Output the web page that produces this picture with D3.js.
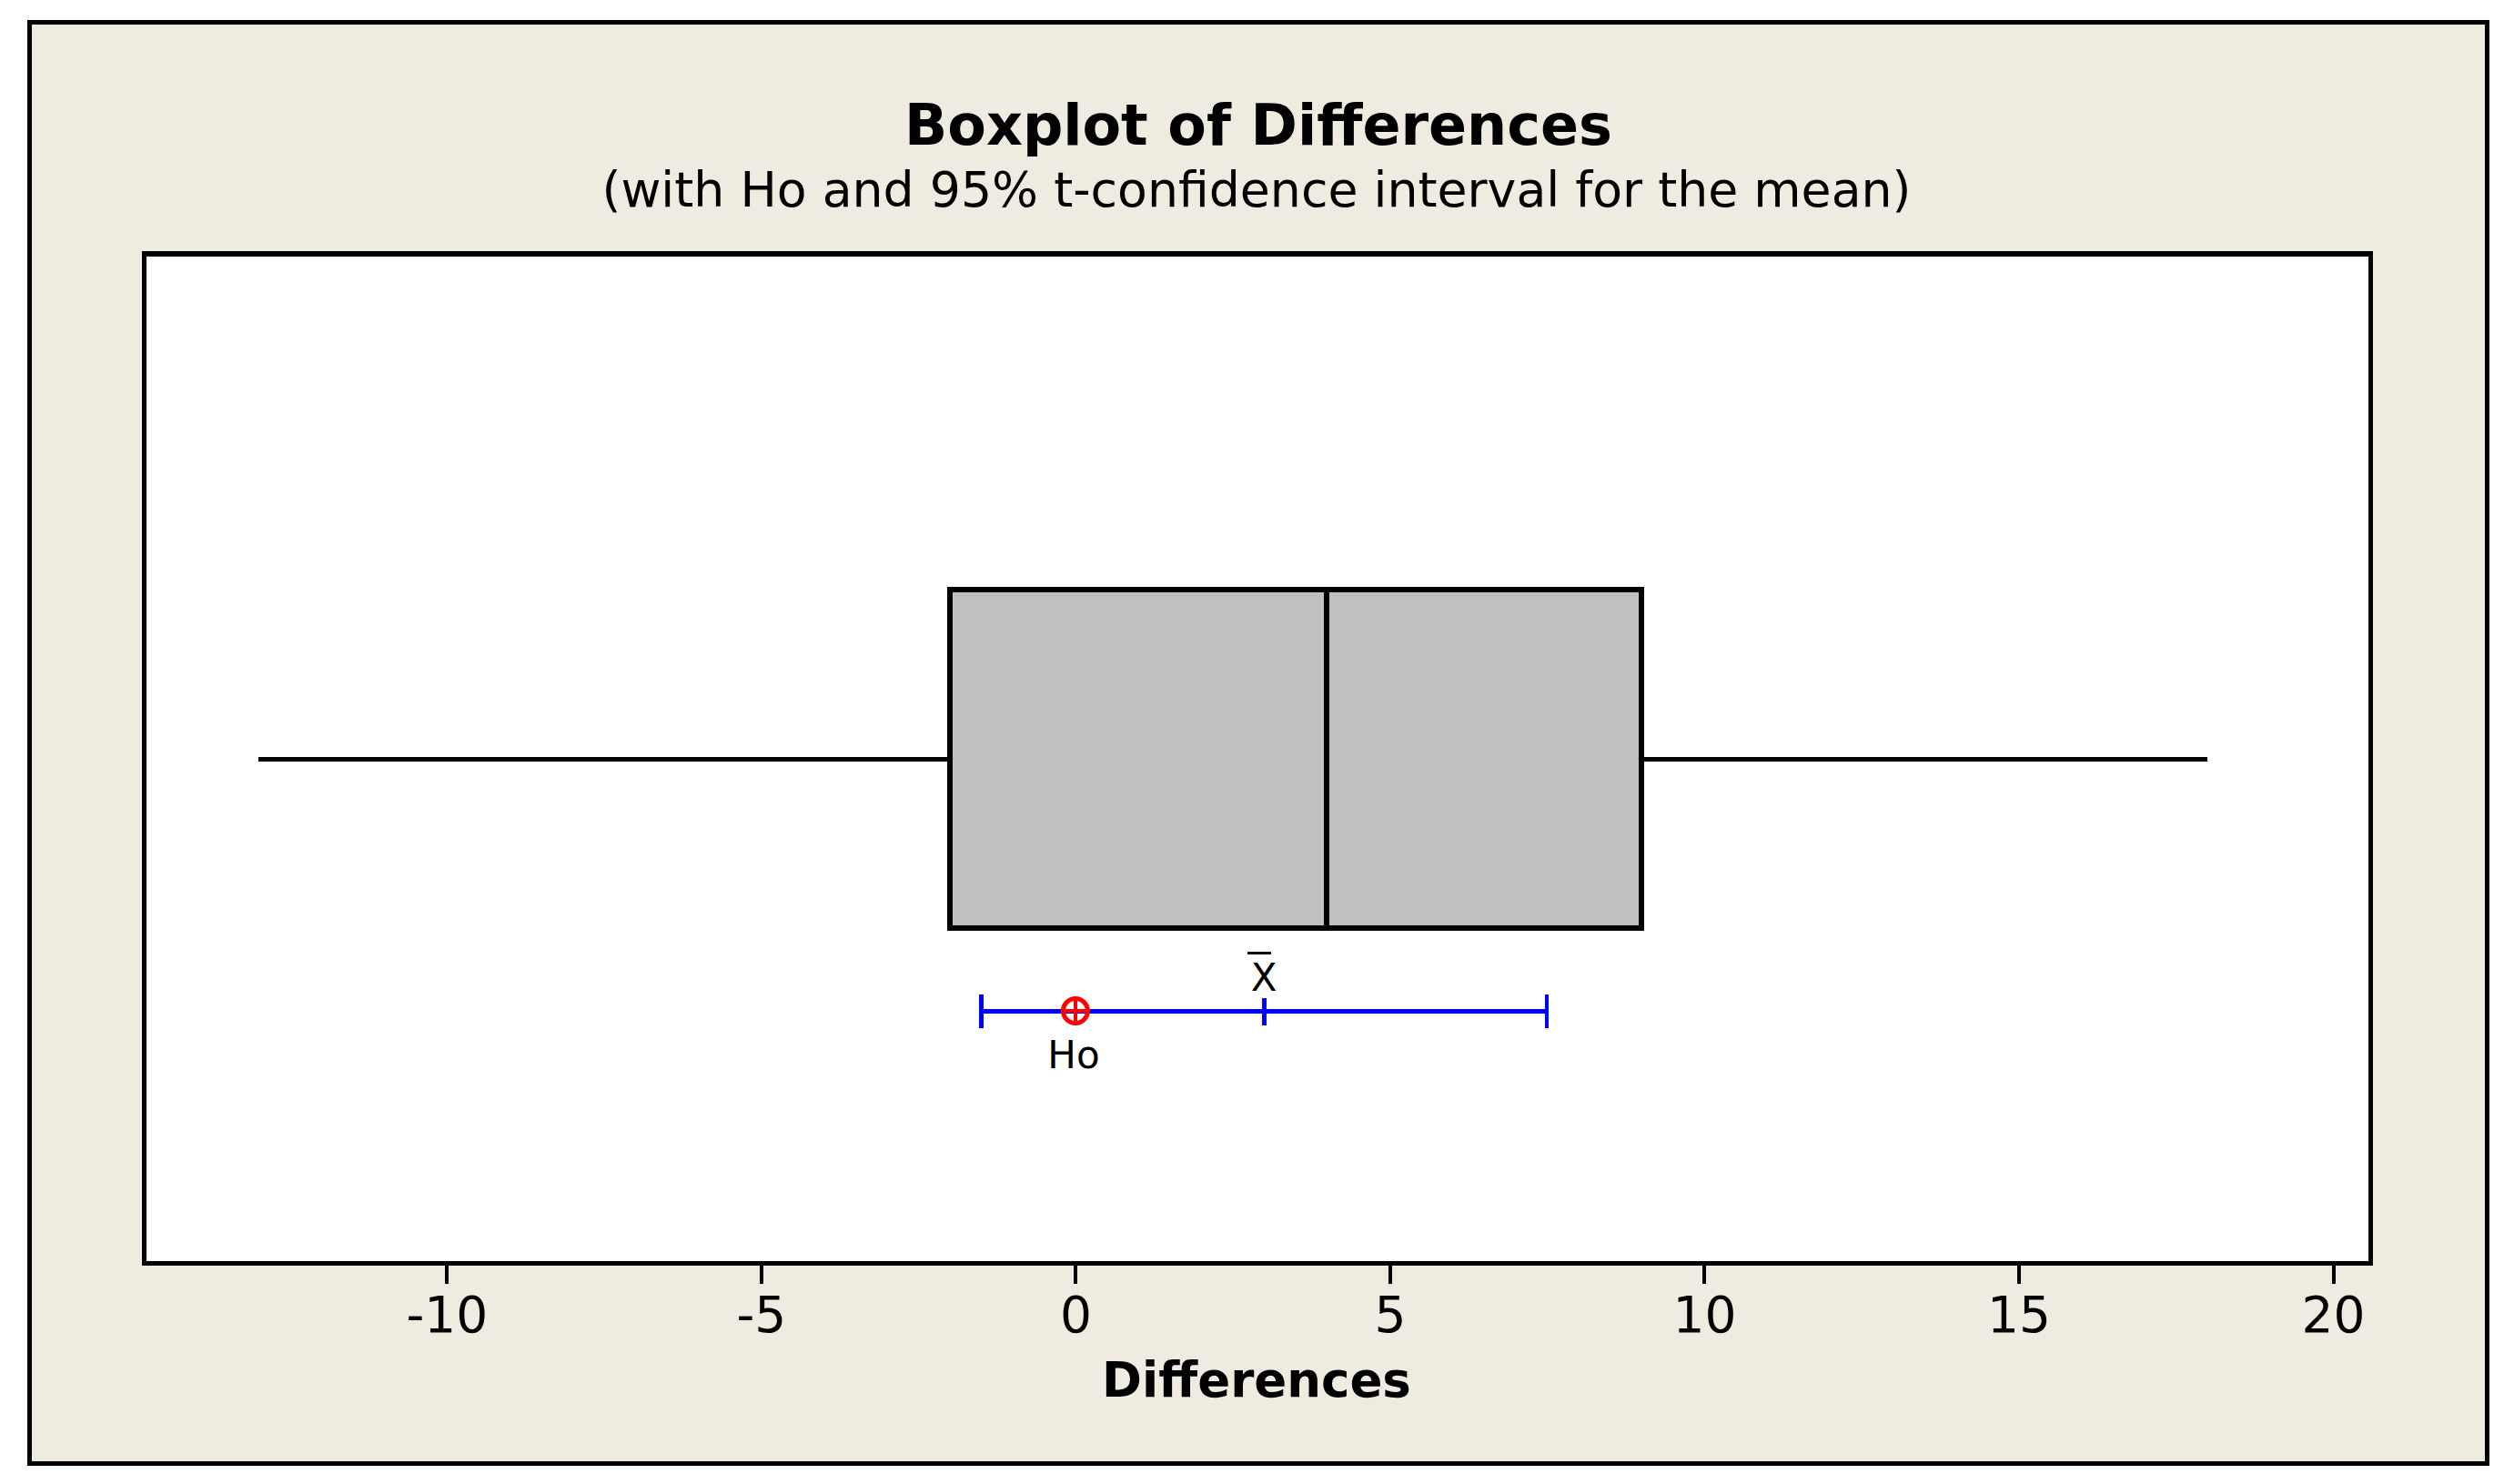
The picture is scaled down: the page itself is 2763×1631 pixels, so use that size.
<!DOCTYPE html>
<html>
<head>
<meta charset="utf-8">
<script src="https://cdn.jsdelivr.net/npm/d3@7"></script>
<style>
  html, body { margin: 0; padding: 0; background: #ffffff; }
  svg { display: block; font-family: "DejaVu Sans", Verdana, sans-serif; }
  line, rect { shape-rendering: crispEdges; }
</style>
</head>
<body>
<svg id="js-svg"></svg>
<script>
// values
const tickValues = [-10, -5, 0, 5, 10, 15, 20];
const boxStats = [-13, -2, 4, 9, 18]; // whisker low, Q1, median, Q3, whisker high
const ciBounds = [-1.5, 7.5];
const meanValue = [3];
const nullValue = [0];

const width = 2763;
const height = 1631;

// plot frame
const plotLeft = 158.5;
const plotRight = 2605.5;
const plotTop = 279;
const plotBottom = 1388.5;

const yBox = 834;
const boxHalf = 186;
const yCI = 1111;

const svg = d3.select("#js-svg").attr("width", width).attr("height", height);

// outer beige panel
svg
  .append("rect")
  .attr("x", 32.5)
  .attr("y", 24)
  .attr("width", 2701)
  .attr("height", 1584)
  .style("fill", "#efebe1")
  .style("stroke", "#000")
  .style("stroke-width", "5px");

svg
  .append("rect")
  .attr("x", plotLeft)
  .attr("y", plotTop)
  .attr("width", plotRight - plotLeft)
  .attr("height", plotBottom - plotTop)
  .style("fill", "#fff")
  .style("stroke", "#000")
  .style("stroke-width", "5.5px");

const x = d3.scaleLinear().domain([-14.81, 20.6]).range([plotLeft, plotRight]);

// titles
svg
  .append("text")
  .attr("x", 1383)
  .attr("y", 159)
  .attr("text-anchor", "middle")
  .style("font-size", "62px")
  .style("font-weight", "bold")
  .text("Boxplot of Differences");

svg
  .append("text")
  .attr("x", 1381)
  .attr("y", 227)
  .attr("text-anchor", "middle")
  .style("font-size", "53.7px")
  .text("(with Ho and 95% t-confidence interval for the mean)");

// axis
const axis = svg
  .append("g")
  .attr("transform", `translate(0, ${plotBottom + 2.5})`)
  .call(d3.axisBottom(x).tickValues(tickValues).tickSize(20).tickPadding(14).tickFormat(d3.format("d")));

axis.select(".domain").remove();
axis.selectAll(".tick line").style("stroke", "#000").style("stroke-width", "4px");
axis
  .selectAll(".tick text")
  .style("font-family", "'DejaVu Sans', Verdana, sans-serif")
  .style("font-size", "55px")
  .style("fill", "#000")
  .text((d) => (d < 0 ? "-" + Math.abs(d) : d));

svg
  .append("text")
  .attr("x", 1381)
  .attr("y", 1535)
  .attr("text-anchor", "middle")
  .style("font-size", "53px")
  .style("font-weight", "bold")
  .text("Differences");

// whiskers
const [lo, q1, med, q3, hi] = boxStats;
const whiskers = [
  [lo, q1],
  [q3, hi],
];
svg
  .selectAll(".whisker")
  .data(whiskers)
  .enter()
  .append("line")
  .attr("class", "whisker")
  .attr("x1", (d) => x(d[0]))
  .attr("x2", (d) => x(d[1]))
  .attr("y1", yBox)
  .attr("y2", yBox)
  .style("stroke", "#000")
  .style("stroke-width", "5px");

// box
svg
  .append("rect")
  .attr("x", x(q1))
  .attr("y", yBox - boxHalf)
  .attr("width", x(q3) - x(q1))
  .attr("height", boxHalf * 2)
  .style("fill", "#c0c0c0")
  .style("stroke", "#000")
  .style("stroke-width", "6px");

svg
  .append("line")
  .attr("x1", x(med))
  .attr("x2", x(med))
  .attr("y1", yBox - boxHalf)
  .attr("y2", yBox + boxHalf)
  .style("stroke", "#000")
  .style("stroke-width", "6px");

// confidence interval
const blue = "#0000ff";
svg
  .append("line")
  .attr("x1", x(ciBounds[0]))
  .attr("x2", x(ciBounds[1]))
  .attr("y1", yCI)
  .attr("y2", yCI)
  .style("stroke", blue)
  .style("stroke-width", "5px");

svg
  .selectAll(".ci-end")
  .data(ciBounds)
  .enter()
  .append("line")
  .attr("class", "ci-end")
  .attr("x1", (d) => x(d))
  .attr("x2", (d) => x(d))
  .attr("y1", yCI - 18)
  .attr("y2", yCI + 19)
  .style("stroke", blue)
  .style("stroke-width", "4.5px");

svg
  .selectAll(".mean-tick")
  .data(meanValue)
  .enter()
  .append("line")
  .attr("class", "mean-tick")
  .attr("x1", (d) => x(d))
  .attr("x2", (d) => x(d))
  .attr("y1", yCI - 14)
  .attr("y2", yCI + 16)
  .style("stroke", blue)
  .style("stroke-width", "4.5px");

// x-bar label
const meanLabel = svg.selectAll(".mean-label").data(meanValue).enter().append("g").attr("class", "mean-label");
meanLabel
  .append("text")
  .attr("x", (d) => x(d))
  .attr("y", yCI - 22)
  .attr("text-anchor", "middle")
  .style("font-size", "42px")
  .text("X");
meanLabel
  .append("line")
  .attr("x1", (d) => x(d) - 18)
  .attr("x2", (d) => x(d) + 8)
  .attr("y1", yCI - 64)
  .attr("y2", yCI - 64)
  .style("stroke", "#000")
  .style("stroke-width", "3px");

// Ho marker
const red = "#ff0000";
const ho = svg.selectAll(".ho").data(nullValue).enter().append("g").attr("class", "ho");
ho
  .append("circle")
  .attr("cx", (d) => x(d))
  .attr("cy", yCI)
  .attr("r", 13.5)
  .style("fill", "none")
  .style("stroke", red)
  .style("stroke-width", "5px");
ho
  .append("line")
  .attr("x1", (d) => x(d) - 13)
  .attr("x2", (d) => x(d) + 13)
  .attr("y1", yCI)
  .attr("y2", yCI)
  .style("stroke", red)
  .style("stroke-width", "3.5px");
ho
  .append("line")
  .attr("x1", (d) => x(d))
  .attr("x2", (d) => x(d))
  .attr("y1", yCI - 13)
  .attr("y2", yCI + 13)
  .style("stroke", red)
  .style("stroke-width", "3.5px");
ho
  .append("text")
  .attr("x", (d) => x(d) - 2)
  .attr("y", yCI + 63)
  .attr("text-anchor", "middle")
  .style("font-size", "42px")
  .text("Ho");
</script>
</body>
</html>
